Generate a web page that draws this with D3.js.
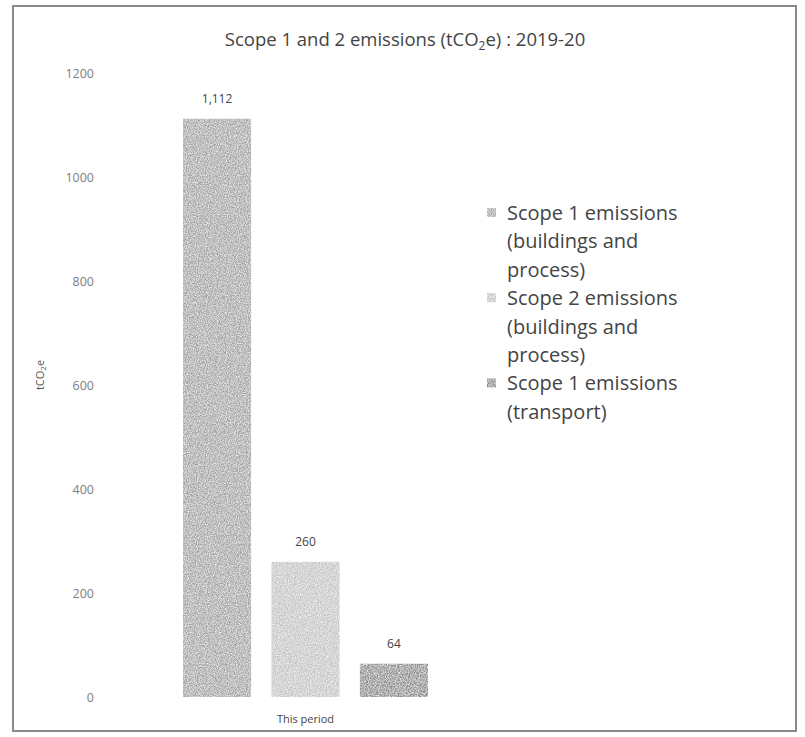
<!DOCTYPE html>
<html>
<head>
<meta charset="utf-8">
<script src="https://cdn.jsdelivr.net/npm/d3@7"></script>
<style>
  body { margin: 0; background: #fff; }
  text { font-family: "Open Sans", "DejaVu Sans", sans-serif; }
</style>
</head>
<body>
<div class="chart"></div>
<script>
var width = 805,
    height = 737;

// data
var category = "This period";
var series = ["Scope 1 emissions (buildings and process)",
              "Scope 2 emissions (buildings and process)",
              "Scope 1 emissions (transport)"];
var values = [1112, 260, 64];
var valueLabels = ["1,112", "260", "64"];
var legendLines = [["Scope 1 emissions", "(buildings and", "process)"],
                   ["Scope 2 emissions", "(buildings and", "process)"],
                   ["Scope 1 emissions", "(transport)"]];
var yTicks = [0, 200, 400, 600, 800, 1000, 1200];

var colors = ["#a6a6a6", "#c6c6c6", "#8e8e8e"];

var svg = d3.select(".chart").append("svg")
    .attr("width", width)
    .attr("height", height);

// grainy look of the scan
var defs = svg.append("defs");
var noise = defs.append("filter").attr("id", "grain")
    .attr("x", 0).attr("y", 0).attr("width", 1).attr("height", 1);
noise.append("feTurbulence")
    .attr("type", "fractalNoise")
    .attr("baseFrequency", 0.9)
    .attr("numOctaves", 2)
    .attr("seed", 3)
    .attr("result", "n");
noise.append("feColorMatrix")
    .attr("in", "n")
    .attr("type", "matrix")
    .attr("values", "0 0 0 0 1  0 0 0 0 1  0 0 0 0 1  1.6 0 0 0 -0.55")
    .attr("result", "speck");
noise.append("feComposite")
    .attr("in", "speck")
    .attr("in2", "SourceGraphic")
    .attr("operator", "atop");

// frame
svg.append("rect")
    .attr("x", 13).attr("y", 6)
    .attr("width", 783).attr("height", 725)
    .style("fill", "none")
    .style("stroke", "#8a8a8a")
    .style("stroke-width", 2);

svg.append("text")
    .attr("x", 405).attr("y", 46)
    .attr("text-anchor", "middle")
    .style("font-size", "18.5px")
    .style("fill", "#444")
    .html('Scope 1 and 2 emissions (tCO<tspan font-size="12px" dy="4">2</tspan><tspan dy="-4">e) : 2019-20</tspan>');

var y = d3.scaleLinear().domain([0, 1200]).range([697, 73]);

var x0 = d3.scaleBand().domain([category]).range([183, 428]);
var x1 = d3.scaleBand().domain(series).range([0, x0.bandwidth()]).paddingInner(0.23);

var yAxis = svg.append("g")
    .attr("transform", "translate(96,0)")
    .call(d3.axisLeft(y).tickValues(yTicks).tickFormat(d3.format("d")).tickSize(0).tickPadding(2));
yAxis.select(".domain").remove();
yAxis.selectAll("text")
    .style("font-family", "'Open Sans', sans-serif")
    .style("font-size", "12.5px")
    .style("fill", "#808080");

svg.append("text")
    .attr("transform", "translate(44,375) rotate(-90)")
    .attr("text-anchor", "middle")
    .style("font-size", "11px")
    .style("fill", "#555")
    .html('tCO<tspan font-size="8px" dy="2">2</tspan><tspan dy="-2">e</tspan>');

var group = svg.append("g")
    .attr("transform", "translate(" + x0(category) + ",0)");

group.selectAll("rect.bar")
    .data(values)
    .enter().append("rect")
    .attr("class", "bar")
    .attr("x", function(d, i) { return x1(series[i]); })
    .attr("y", function(d) { return y(d); })
    .attr("width", x1.bandwidth())
    .attr("height", function(d) { return y(0) - y(d); })
    .style("fill", function(d, i) { return colors[i]; })
    .attr("filter", "url(#grain)");

group.selectAll("text.val")
    .data(values)
    .enter().append("text")
    .attr("class", "val")
    .attr("x", function(d, i) { return x1(series[i]) + x1.bandwidth() / 2; })
    .attr("y", function(d) { return y(d) - 16; })
    .attr("text-anchor", "middle")
    .style("font-size", "12px")
    .style("fill", "#444")
    .text(function(d, i) { return valueLabels[i]; });

svg.append("text")
    .attr("x", x0(category) + x0.bandwidth() / 2)
    .attr("y", 723)
    .attr("text-anchor", "middle")
    .style("font-size", "11px")
    .style("fill", "#444")
    .text(category);

// legend
var lineH = 28.4,
    legTop = 220,
    row = 0;
legendLines.forEach(function(lines, i) {
    var rowY = legTop + row * lineH;
    svg.append("rect")
        .attr("x", 487).attr("y", rowY - 12)
        .attr("width", 9).attr("height", 9)
        .style("fill", colors[i])
        .attr("filter", "url(#grain)");
    lines.forEach(function(t, j) {
        svg.append("text")
            .attr("x", 507)
            .attr("y", rowY + j * lineH)
            .style("font-size", "20px")
            .style("fill", "#444")
            .text(t);
    });
    row += lines.length;
});
</script>
</body>
</html>
